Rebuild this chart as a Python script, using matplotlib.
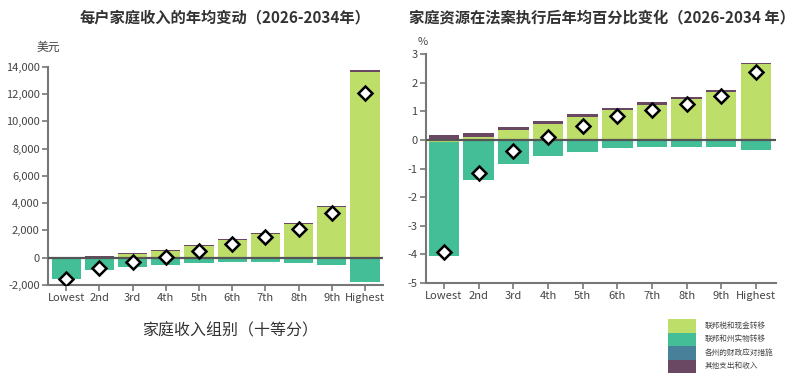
import matplotlib
matplotlib.use('Agg')
import matplotlib.pyplot as plt
from matplotlib.patches import Rectangle
import numpy as np

plt.rcParams['font.family'] = ['Noto Sans CJK SC', 'DejaVu Sans']
plt.rcParams['axes.unicode_minus'] = False

deciles = ['Lowest', '2nd', '3rd', '4th', '5th', '6th', '7th', '8th', '9th', 'Highest']
components = ['联邦税和现金转移', '联邦和州实物转移', '各州的财政应对措施', '其他支出和收入']
colors = ['#bede6a', '#43be96', '#48809a', '#6a4864']

# left: dollars per household
usd_cash = [0, 40, 280, 500, 840, 1270, 1760, 2440, 3680, 13600]
usd_inkind = [-1600, -880, -660, -510, -410, -340, -340, -390, -510, -1760]
usd_state = [0, 0, 0, 0, 0, 0, 0, 0, 0, 0]
usd_other = [60, 80, 60, 60, 60, 70, 70, 80, 80, 170]
usd_net = [-1580, -760, -290, 50, 510, 1000, 1490, 2120, 3270, 12060]

# right: percent of resources
pct_cash = [-0.07, 0.12, 0.36, 0.56, 0.82, 1.04, 1.22, 1.42, 1.68, 2.65]
pct_inkind = [-4.0, -1.40, -0.84, -0.56, -0.41, -0.29, -0.23, -0.23, -0.23, -0.35]
pct_state = [0, 0, 0, 0, 0, 0, 0, 0, 0, 0]
pct_other = [0.19, 0.14, 0.11, 0.10, 0.09, 0.08, 0.09, 0.07, 0.07, 0.05]
pct_net = [-3.9, -1.17, -0.39, 0.09, 0.50, 0.83, 1.06, 1.27, 1.52, 2.36]

fig = plt.figure(figsize=(8, 3.84), dpi=100)
ax1 = fig.add_axes([0.06, 0.258, 0.419, 0.568])
ax2 = fig.add_axes([0.5325, 0.263, 0.4375, 0.596])


def draw(ax, series, net, xlim, ylim, yticks, ylabels):
    x = np.arange(len(deciles))
    pos = np.zeros(len(x))
    neg = np.zeros(len(x))
    for vals, c in zip(series, colors):
        v = np.array(vals, dtype=float)
        p = np.where(v > 0, v, 0)
        n = np.where(v < 0, v, 0)
        ax.bar(x, p, 0.88, bottom=pos, color=c, linewidth=0)
        ax.bar(x, n, 0.88, bottom=neg, color=c, linewidth=0)
        pos += p
        neg += n
    ax.axhline(0, color='#555555', lw=1.6, zorder=3)
    ax.plot(x, net, 'D', ms=7, mfc='white', mec='black', mew=1.8, zorder=4)
    ax.set_xlim(*xlim)
    ax.set_ylim(*ylim)
    ax.set_xticks(x)
    ax.set_xticklabels(deciles)
    ax.set_yticks(yticks)
    ax.set_yticklabels(ylabels)
    for s in ['top', 'right']:
        ax.spines[s].set_visible(False)
    for s in ['left', 'bottom']:
        ax.spines[s].set_color('#777777')
        ax.spines[s].set_linewidth(1.5)
    ax.tick_params(colors='#777777', labelcolor='#444444', labelsize=8,
                   length=4, width=1.2, pad=2)


draw(ax1, [usd_cash, usd_inkind, usd_state, usd_other], usd_net,
     (-0.55, 9.55), (-2000, 14000), range(-2000, 14001, 2000),
     ['{:,}'.format(v) for v in range(-2000, 14001, 2000)])
draw(ax2, [pct_cash, pct_inkind, pct_state, pct_other], pct_net,
     (-0.52, 9.58), (-5, 3), range(-5, 4),
     [str(v) for v in range(-5, 4)])

fig.text(0.281, 0.955, '每户家庭收入的年均变动（2026-2034年）', ha='center', va='center',
         fontsize=11, fontweight='bold', color='#333333')
fig.text(0.752, 0.955, '家庭资源在法案执行后年均百分比变化（2026-2034 年）', ha='center',
         va='center', fontsize=11, fontweight='bold', color='#333333')
fig.text(0.06, 0.878, '美元', ha='center', va='center', fontsize=8.5, color='#444444')
fig.text(0.528, 0.89, '%', ha='center', va='center', fontsize=8, color='#444444')
fig.text(0.2875, 0.138, '家庭收入组别（十等分）', ha='center', va='center',
         fontsize=11.5, color='#333333')

# legend
lx, lw, lh, ltop = 668 / 800, 28 / 800, 13.5 / 384, 1 - 319 / 384
for i, (lab, c) in enumerate(zip(components, colors)):
    y = ltop - (i + 1) * lh
    fig.add_artist(Rectangle((lx, y), lw, lh, transform=fig.transFigure,
                             facecolor=c, edgecolor='none'))
    fig.text(lx + lw + 9 / 800, y + lh / 2, lab, ha='left', va='center',
             fontsize=5.5, color='#444444')

fig.savefig('out.png', dpi=100)
